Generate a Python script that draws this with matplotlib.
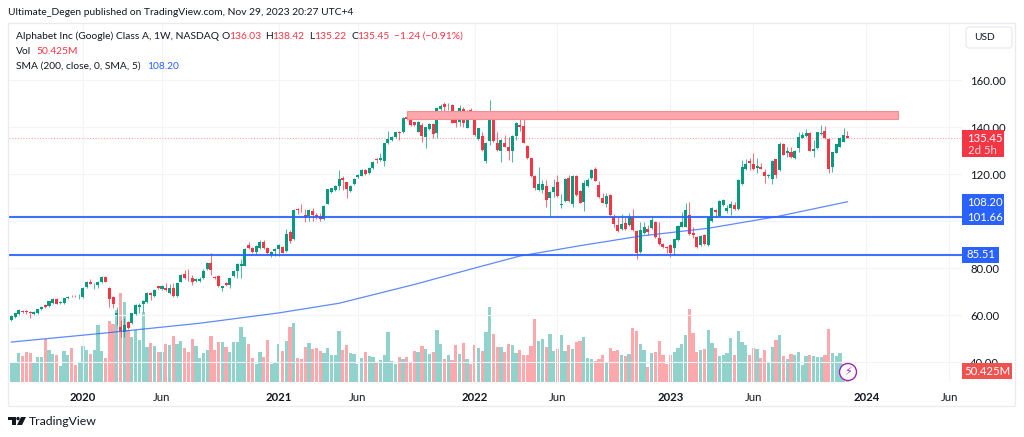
import matplotlib
matplotlib.use("Agg")
import matplotlib.pyplot as plt
from matplotlib.patches import Rectangle, FancyBboxPatch, Circle, Polygon

plt.rcParams['font.family'] = ['Lato', 'DejaVu Sans']

# weekly candles (bar 0 = Aug 2019)
opens = [57.9,59.0,60.4,61.8,61.7,61.3,60.4,60.7,62.4,64.4,
         63.8,65.0,66.8,65.0,65.0,67.2,68.2,68.2,68.0,67.5,
         71.8,74.2,71.8,72.9,73.9,76.2,71.6,67.7,60.0,54.9,
         52.9,56.9,56.8,60.3,63.5,64.5,65.5,69.4,68.0,72.2,
         71.2,71.6,69.4,71.4,68.0,74.2,77.6,75.9,75.9,74.5,
         74.5,75.6,79.4,82.1,76.3,76.6,71.6,73.6,72.8,76.6,
         78.6,80.9,81.0,89.8,88.4,86.7,88.5,91.2,88.5,85.5,
         87.2,88.0,89.1,87.4,95.5,92.2,105.1,
         104.7,102.5,102.1,104.2,102.4,102.1,100.8,107.4,112.3,113.2,
         114.9,118.1,116.4,112.8,115.6,118.6,119.3,121.7,120.3,122.4,
         126.2,125.9,125.7,133.0,134.5,135.7,138.0,137.7,144.2,144.0,
         142.0,138.0,141.0,135.6,139.0,141.3,137.3,147.8,149.8,148.8,
         149.5,143.7,142.1,147.5,139.7,147.2,145.1,134.7,136.3,125.7,
         134.0,144.1,133.3,129.8,133.0,131.3,129.8,136.2,140.8,140.4,
         131.9,126.7,119.1,113.2,113.3,114.9,109.6,112.5,116.7,106.8,
         108.6,118.3,107.1,119.3,112.7,108.2,114.9,118.1,122.0,115.3,
         109.9,107.2,111.0,101.8,98.3,96.4,99.0,98.3,101.6,95.7,
         87.0,94.7,96.6,96.9,99.7,92.8,90.2,89.1,89.8,88.4,
         91.9,97.6,97.6,102.6,94.9,93.2,89.8,94.0,89.8,100.0,
         104.7,102.1,106.8,104.2,105.4,106.8,105.1,115.7,122.1,125.7,
         124.1,122.4,122.8,121.0,119.1,117.9,126.2,121.7,132.8,129.1,
         129.4,126.9,130.9,135.5,136.2,137.6,129.8,130.9,137.0,138.3,
         135.0,122.8,129.1,131.6,133.8,136.03]
highs = [60.0,61.0,62.5,62.2,62.3,61.6,61.5,62.7,63.7,64.7,
         66.0,67.3,67.2,65.8,67.4,68.2,68.4,68.5,69.0,71.9,
         74.5,75.2,73.6,74.4,76.5,76.5,72.0,68.2,63.5,57.9,
         58.6,57.5,61.0,64.6,65.0,66.3,70.0,69.8,71.0,72.5,
         72.9,73.5,73.2,73.5,74.0,77.3,79.1,79.4,77.0,75.6,
         76.0,79.4,82.6,86.2,76.8,77.0,72.5,74.2,75.8,79.0,
         82.0,84.0,88.4,91.2,89.0,89.8,92.0,91.8,88.9,87.2,
         88.6,90.3,89.4,96.5,96.0,105.0,105.7,
         107.2,105.0,105.0,105.5,103.2,103.2,106.8,113.8,114.2,115.2,
         121.7,119.1,116.7,115.2,118.3,120.0,122.0,122.0,123.0,125.5,
         126.9,128.8,133.3,138.1,136.0,138.0,138.4,144.3,145.1,144.3,
         142.3,142.4,141.6,140.2,141.6,141.6,148.6,150.0,150.8,150.4,
         149.8,144.0,149.3,148.7,147.2,147.9,145.4,139.7,138.0,133.6,
         151.5,144.4,138.0,134.8,136.6,135.9,136.5,142.0,143.7,143.7,
         132.2,127.0,119.4,122.8,117.4,117.4,112.6,117.7,119.6,111.5,
         118.3,119.6,119.7,119.6,113.0,117.4,118.1,122.0,122.8,117.2,
         111.8,111.8,111.3,102.9,101.8,103.0,101.8,103.3,105.0,96.0,
         99.7,99.7,98.2,102.1,100.0,99.7,90.5,89.4,90.1,92.5,
         98.3,104.0,107.5,107.9,97.6,93.5,93.9,94.3,102.1,106.0,
         105.0,108.9,109.5,106.8,108.6,108.2,117.7,125.9,126.2,126.7,
         128.8,126.7,124.5,122.0,119.9,125.8,126.5,133.5,133.1,131.6,
         131.6,130.2,138.0,138.0,139.0,137.9,134.5,138.0,140.8,140.6,
         135.3,129.5,132.9,135.6,139.4,138.42]
lows = [57.6,58.8,60.2,61.0,60.6,58.6,60.0,60.3,62.2,63.0,
        63.5,64.8,64.5,64.7,64.8,67.0,67.7,67.6,67.0,67.2,
        71.5,73.0,71.2,71.4,73.7,74.0,63.5,63.0,55.7,50.8,
        50.8,54.0,56.3,60.0,60.7,61.4,65.2,66.4,67.8,71.2,
        70.6,70.3,69.0,67.7,67.7,74.0,75.3,74.6,72.8,74.0,
        74.2,75.3,79.1,77.0,75.2,72.0,70.4,72.4,71.5,76.3,
        75.6,75.6,80.7,88.0,86.4,85.8,88.2,88.0,85.8,84.9,
        85.0,85.0,86.2,87.0,90.5,92.0,103.0,
        104.0,99.4,100.0,100.1,100.7,100.1,100.5,107.1,112.0,112.9,
        113.2,113.2,110.0,112.5,115.3,118.3,119.0,119.7,120.0,122.1,
        124.5,125.6,123.5,132.7,134.2,135.4,134.5,137.4,143.0,140.4,
        140.4,137.7,133.8,131.2,138.7,135.2,135.2,143.7,144.4,147.2,
        141.5,140.1,140.4,139.9,139.4,144.4,136.3,134.4,129.9,124.5,
        132.3,133.7,129.9,125.2,131.3,126.0,125.2,134.5,138.4,133.0,
        126.4,118.8,113.2,112.9,111.8,106.1,101.8,110.3,110.1,105.4,
        108.3,108.2,106.1,110.7,107.5,104.2,114.6,117.8,116.9,110.0,
        107.5,106.1,102.3,97.6,95.4,96.2,96.1,98.0,95.9,83.7,
        86.2,94.4,94.2,96.6,92.7,89.8,88.6,86.5,84.8,85.9,
        91.6,97.3,97.3,94.1,92.6,88.6,89.5,89.9,89.5,99.7,
        101.8,101.8,106.5,103.5,102.5,104.8,104.8,115.4,121.8,121.7,
        121.7,120.3,122.0,116.0,118.1,115.8,118.1,121.4,128.0,127.4,
        126.9,126.6,129.5,135.2,135.9,129.6,127.4,130.6,136.7,135.0,
        120.3,121.0,128.8,131.3,133.5,135.22]
closes = [59.6,60.7,62.3,61.3,61.1,60.7,61.3,62.4,63.5,63.3,
          65.8,67.0,64.8,65.5,67.2,67.8,68.0,68.0,68.2,71.6,
          74.2,73.3,72.1,74.2,76.2,74.2,67.0,64.7,61.0,53.2,
          55.7,54.5,60.7,64.3,64.3,66.0,69.4,68.5,70.8,71.6,
          72.2,70.6,71.4,68.0,73.6,77.0,75.8,75.6,74.2,75.3,
          75.3,78.7,82.1,79.1,75.9,72.4,72.2,72.8,75.6,78.7,
          81.7,81.7,88.1,88.5,86.7,89.5,91.2,88.5,86.2,86.8,
          88.0,89.9,86.5,94.6,91.4,104.7,104.7,
          104.5,101.1,104.7,102.5,101.8,100.7,106.5,113.6,113.9,114.9,
          117.9,117.4,113.5,114.9,118.0,119.7,121.7,120.0,122.7,125.2,
          125.9,126.9,133.0,134.7,135.7,137.7,137.6,144.0,143.4,140.7,
          140.7,142.1,136.2,139.9,141.3,137.0,147.9,148.9,148.6,149.0,
          141.8,141.5,147.9,141.6,146.9,144.7,136.6,139.4,130.2,133.3,
          143.4,134.0,130.2,134.5,131.6,129.8,136.2,141.5,140.1,133.3,
          126.7,119.1,113.9,115.6,115.7,108.9,112.3,114.5,110.6,107.2,
          118.0,108.5,119.3,111.0,107.8,116.3,117.4,121.7,117.2,110.3,
          107.8,110.6,102.6,98.6,95.7,98.6,96.4,101.6,96.2,86.5,
          96.2,97.6,95.3,100.4,93.0,90.1,88.9,88.4,86.5,92.2,
          98.0,99.7,104.9,94.4,94.2,88.9,93.6,90.2,101.6,105.7,
          103.8,108.6,108.9,105.7,107.2,105.1,117.4,122.8,124.1,124.5,
          122.0,123.4,122.3,119.1,119.6,125.5,119.6,132.6,128.1,129.6,
          127.1,129.9,135.6,136.6,137.6,129.9,130.8,137.7,137.6,135.3,
          122.0,129.2,132.6,135.3,136.6,135.45]
# volume in millions of shares
volumes = [103,96,146,129,151,146,94,126,126,217,
           163,141,136,81,156,136,171,86,96,183,
           163,141,163,285,156,122,307,292,363,447,
           403,262,228,262,212,352,176,195,183,153,
           149,191,188,232,193,205,170,151,218,181,
           122,146,163,230,161,200,203,175,149,200,
           200,277,227,191,119,89,151,126,210,91,
           94,190,154,205,275,295,119,
           117,178,198,166,170,158,144,170,134,134,
           257,161,186,146,141,91,121,151,131,126,
           96,111,138,250,106,89,124,117,126,96,
           154,149,181,166,143,151,262,193,117,138,
           111,188,141,196,114,92,188,170,158,252,
           376,240,178,178,153,191,186,146,161,138,
           136,181,317,207,218,176,242,158,166,237,
           156,185,165,200,208,225,121,117,106,114,
           136,101,171,155,161,136,131,141,272,259,
           190,163,77,146,150,207,134,92,138,150,
           170,190,239,366,245,150,163,166,262,198,
           170,133,136,146,222,134,259,202,188,136,
           171,168,123,161,94,176,210,237,129,116,
           141,136,151,86,129,136,129,126,126,134,
           269,146,133,146,90,50.425]
assert len(opens) == len(highs) == len(lows) == len(closes) == len(volumes) == 223

# SMA 200 read at a few bars
sma_bars = [0,24,50,71,87,107,124,135,151,167,185,203,222]
sma_vals = [48.5,52.2,56.5,60.9,65,73,80.4,85.1,89.5,93.6,96.9,101.8,108.2]

price_ticks = [40,60,80,100,120,140,160]
price_labels = ['40.00','60.00','80.00','','120.00','140.00','160.00']
time_ticks = [19,40,71,92,123,145,175,197,227,249]
time_labels = ['2020','Jun','2021','Jun','2022','Jun','2023','Jun','2024','Jun']

level_high = 101.66
level_low = 85.51
zone_bottom = 143.4
zone_top = 146.8
zone_start = 105
zone_end = 235.4
last_price = 135.45

GREEN = '#089981'
RED = '#f23645'
TEXT = '#131722'
FS = 7.35
W, H = 1024, 437

fig = plt.figure(figsize=(W/100, H/100), dpi=100, facecolor='white')
box = [9/W, (H-382)/H, (962-9)/W, (382-23)/H]

# volume pane sits behind the price axes
ax_vol = fig.add_axes(box, zorder=1)
ax_vol.set_xlim(-0.62, 252.4)
ax_vol.set_ylim(0, 1809)
ax_vol.axis('off')

ax = fig.add_axes(box, zorder=2)
ax.patch.set_alpha(0)
ax.set_xlim(-0.62, 252.4)
ax.set_ylim(31.5, 184.26)
for s in ax.spines.values():
    s.set_visible(False)

bars = list(range(len(opens)))
up = [c >= o for o, c in zip(opens, closes)]
ax_vol.bar(bars, volumes, width=0.86, color=['#92d2cc' if u else '#fba9ad' for u in up])

ax.vlines(bars, lows, highs, colors=[GREEN if u else RED for u in up], lw=0.75, alpha=0.7, zorder=3)
ax.bar(bars, [abs(c-o) for o, c in zip(opens, closes)], bottom=[min(o, c) for o, c in zip(opens, closes)],
       width=0.8, color=[GREEN if u else RED for u in up], zorder=4)

ax.add_patch(Rectangle((zone_start, zone_bottom), zone_end-zone_start, zone_top-zone_bottom,
                       facecolor='#fca7ab', edgecolor='#f58d93', lw=0.8, zorder=5))
ax.axhline(level_high, color='#2962ff', lw=1.5, alpha=0.9, zorder=6)
ax.axhline(level_low, color='#2962ff', lw=1.5, alpha=0.9, zorder=6)
ax.plot(sma_bars, sma_vals, color='#2962ff', lw=0.9, alpha=0.75, zorder=6)
ax.axhline(last_price, color='#f7a5ab', lw=0.8, ls=(0, (1, 1.5)), zorder=2)

ax.yaxis.tick_right()
ax.set_yticks(price_ticks)
ax.set_yticklabels(price_labels, fontsize=8.2, color=TEXT)
ax.set_xticks(time_ticks)
ax.set_xticklabels(time_labels, fontsize=8.2, color=TEXT)
for lab, txt in zip(ax.get_xticklabels(), time_labels):
    if txt != 'Jun':
        lab.set_fontweight('bold')
ax.tick_params(length=0, axis='y', pad=6)
ax.tick_params(length=0, axis='x', pad=7)
ax.grid(True, color='#f2f4f9', lw=0.8)
ax.set_axisbelow(True)

# pixel overlay for the TradingView furniture
ov = fig.add_axes([0, 0, 1, 1], zorder=3)
ov.set_xlim(0, W)
ov.set_ylim(H, 0)
ov.axis('off')
ov.patch.set_alpha(0)

ov.add_patch(Rectangle((8, 23), 1007, 383, fill=False, edgecolor='#e9ebf1', lw=0.9))
ov.text(8, 12.5, 'Ultimate_Degen published on TradingView.com, Nov 29, 2023 20:27 UTC+4',
        fontsize=FS, color=TEXT, va='center')

ov.text(16, 36.5, 'Alphabet Inc (Google) Class A, 1W, NASDAQ', fontsize=FS, color=TEXT, va='center')
for x, xv, label, value in [(222, 229, 'O', '136.03'), (265, 272, 'H', '138.42'),
                            (309, 314.5, 'L', '135.22'), (351, 357.5, 'C', '135.45')]:
    ov.text(x, 36.5, label, fontsize=FS, color=TEXT, va='center')
    ov.text(xv, 36.5, value, fontsize=FS, color=RED, va='center')
ov.text(394, 36.5, '\u22121.24 (\u22120.91%)', fontsize=FS, color=RED, va='center')
ov.text(16, 51.5, 'Vol', fontsize=FS, color=TEXT, va='center')
ov.text(36, 51.5, '50.425M', fontsize=FS, color=RED, va='center')
ov.text(16, 66.5, 'SMA (200, close, 0, SMA, 5)', fontsize=FS, color=TEXT, va='center')
ov.text(147, 66.5, '108.20', fontsize=FS, color='#2962ff', va='center')

# USD button
ov.add_patch(FancyBboxPatch((968, 29), 42, 17, boxstyle='round,pad=2,rounding_size=3',
                            facecolor='white', edgecolor='#e6e8ef', lw=0.8))
ov.text(974, 37.5, 'USD', fontsize=FS, color=TEXT, va='center')

# price labels
ov.add_patch(Rectangle((962, 130), 42, 27, facecolor=RED, edgecolor='none'))
ov.text(985, 138, '135.45', fontsize=8.2, color='white', ha='center', va='center')
ov.text(982, 150, '2d 5h', fontsize=8.2, color='#ffd5d8', ha='center', va='center')
ov.add_patch(Rectangle((962, 194), 42, 31, facecolor='#2962ff', edgecolor='none'))
ov.text(985, 202, '108.20', fontsize=8.2, color='white', ha='center', va='center')
ov.text(985, 217.5, '101.66', fontsize=8.2, color='white', ha='center', va='center')
ov.add_patch(Rectangle((962, 247), 37, 16, facecolor='#2962ff', edgecolor='none'))
ov.text(981, 255, '85.51', fontsize=8.2, color='white', ha='center', va='center')
ov.add_patch(Rectangle((962, 363), 50, 16, facecolor='#ef5350', edgecolor='none'))
ov.text(987, 371.5, '50.425M', fontsize=8.2, color='white', ha='center', va='center')

# earnings flash icon
ov.add_patch(Circle((848, 372), 8.5, facecolor='white', edgecolor='#9c27b0', lw=1.0))
ov.text(848, 372, '\u26a1', fontsize=8, color='#9c27b0', ha='center', va='center', family='DejaVu Sans')

# footer logo
ov.add_patch(Rectangle((8, 417), 7.5, 3.2, facecolor='#131722', edgecolor='none'))
ov.add_patch(Rectangle((11.5, 419), 4, 6, facecolor='#131722', edgecolor='none'))
ov.add_patch(Circle((18, 418.6), 1.7, facecolor='#131722', edgecolor='none'))
ov.add_patch(Polygon([(21, 417), (26, 417), (22, 425), (17, 425)], facecolor='#131722', edgecolor='none'))
ov.text(29, 421.5, 'TradingView', fontsize=8.8, color=TEXT, va='center')

fig.savefig('out.png', dpi=100)
